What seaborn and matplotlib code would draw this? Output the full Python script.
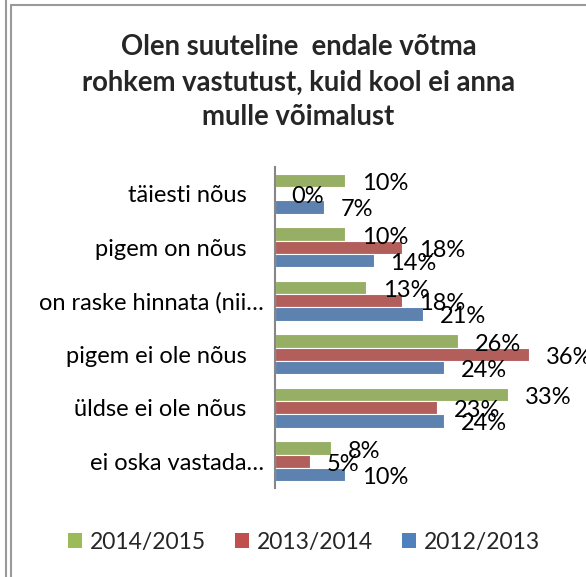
import matplotlib
matplotlib.use("Agg")
import matplotlib.pyplot as plt
import matplotlib.transforms as mtransforms
from matplotlib.lines import Line2D
from matplotlib.patches import Patch
import seaborn as sns
import pandas as pd

categories = ["täiesti nõus", "pigem on nõus", "on raske hinnata (nii…",
              "pigem ei ole nõus", "üldse ei ole nõus", "ei oska vastada…"]
years = ["2014/2015", "2013/2014", "2012/2013"]
share_2014_2015 = [10, 10, 13, 26, 33, 8]
share_2013_2014 = [0, 18, 18, 36, 23, 5]
share_2012_2013 = [7, 14, 21, 24, 24, 10]
title_lines = ["Olen suuteline  endale võtma",
               "rohkem vastutust, kuid kool ei anna",
               "mulle võimalust"]

colors = ["#9BBB59", "#C0504D", "#4F81BD"]

df = pd.DataFrame({
    "category": categories * 3,
    "year": [y for y in years for _ in categories],
    "value": share_2014_2015 + share_2013_2014 + share_2012_2013,
})

sns.set_style("white")
plt.rcParams["font.family"] = ["Lato", "DejaVu Sans"]
fs = 17

fig = plt.figure(figsize=(5.86, 5.77), dpi=100)
W, H = 586, 577
ax = fig.add_axes([274.7 / W, 1 - 488 / H, (557 - 274.7) / W, (488 - 167) / H])

sns.barplot(data=df, y="category", x="value", hue="year", orient="h",
            order=categories, hue_order=years, palette=colors, width=0.74,
            edgecolor="white", linewidth=0.8, legend=False, ax=ax)

ax.set_xlim(0, 40)
ax.set_xlabel("")
ax.set_ylabel("")
ax.set_xticks([])
for s in ["top", "right", "bottom"]:
    ax.spines[s].set_visible(False)
ax.spines["left"].set_color("#868686")
ax.spines["left"].set_linewidth(1.5)
ax.tick_params(axis="y", length=0, pad=8, labelsize=fs, labelcolor="black")

# labels without the ellipsis sit a bit further from the axis
shift = mtransforms.ScaledTranslation(-17 / 100, 0, fig.dpi_scale_trans)
for lab in ax.get_yticklabels():
    if not lab.get_text().endswith("…"):
        lab.set_transform(lab.get_transform() + shift)

for cont in ax.containers:
    for bar in cont:
        v = bar.get_width()
        ax.annotate(f"{v:.0f}%", xy=(v, bar.get_y() + bar.get_height() / 2),
                    xytext=(17, -3), textcoords="offset pixels",
                    ha="left", va="center", fontsize=fs, color="black",
                    annotation_clip=False)

for txt, yb in zip(title_lines, [55, 91, 125]):
    fig.text(298.5 / W, 1 - yb / H, txt, ha="center", va="baseline",
             fontsize=19.8, fontweight="bold")

handles = [Patch(facecolor=c, edgecolor="none") for c in colors]
fig.legend(handles, years, loc="center", bbox_to_anchor=(304 / W, 1 - 542 / H),
           ncol=3, frameon=False, fontsize=16.5, handlelength=0.62,
           handleheight=0.62, handletextpad=0.35, columnspacing=1.25,
           borderpad=0)

# chart frame edges visible in the crop
gray = "#9a9a9a"
fig.add_artist(Line2D([6 / W, 6 / W], [0, 1], color=gray, lw=1.5))
fig.add_artist(Line2D([10.5 / W, 10.5 / W], [0, 1 - 5 / H], color=gray, lw=1.5))
fig.add_artist(Line2D([10.5 / W, 1], [1 - 5 / H, 1 - 5 / H], color=gray, lw=1.5))

fig.savefig("out.png", dpi=100)
